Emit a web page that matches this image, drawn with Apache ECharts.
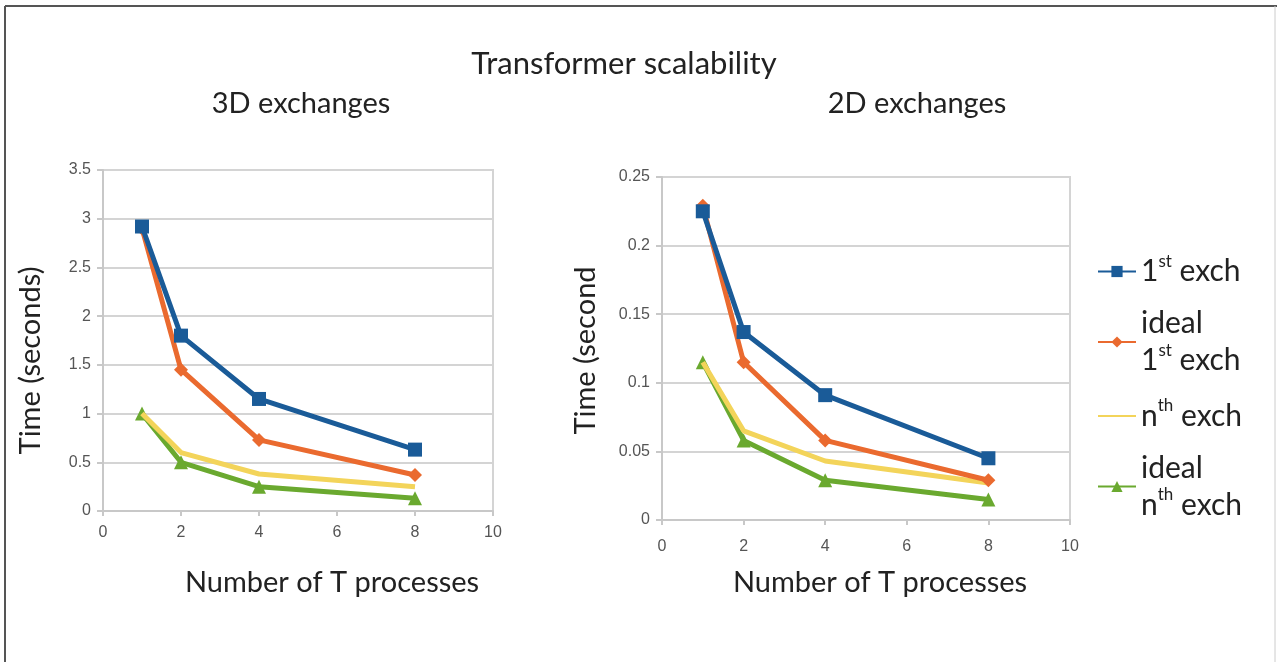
<!DOCTYPE html>
<html>
<head>
<meta charset="utf-8">
<script src="https://cdn.jsdelivr.net/npm/echarts@6/dist/echarts.min.js"></script>
<style>
html,body{margin:0;padding:0;background:#fff;}
#chart{width:1277px;height:662px;}
</style>
</head>
<body>
<div id="chart"></div>
<script>
// ---- data ----
const procs = [1, 2, 4, 8];
const seriesNames = ['1st exch', 'ideal 1st exch', 'nth exch', 'ideal nth exch'];
const first3D = [2.92, 1.80, 1.15, 0.63];
const ideal1st3D = [2.90, 1.45, 0.73, 0.37];
const nth3D = [1.00, 0.60, 0.38, 0.25];
const idealNth3D = [1.00, 0.50, 0.25, 0.13];
const first2D = [0.225, 0.137, 0.091, 0.045];
const ideal1st2D = [0.229, 0.115, 0.058, 0.029];
const nth2D = [0.115, 0.065, 0.043, 0.027];
const idealNth2D = [0.115, 0.058, 0.029, 0.015];
const xTicks = [0, 2, 4, 6, 8, 10];

const colors = ['#1a5b98', '#ea6a2f', '#f3d45a', '#6aa92f'];
const symbols = ['rect', 'diamond', 'none', 'triangle'];
const symbolSizes = [14, 14, 0, 14];

function pairs(vals) { return procs.map((p, i) => [p, vals[i]]); }

function mkSeries(idx, vals, gi) {
  return {
    name: seriesNames[idx],
    type: 'line',
    xAxisIndex: gi, yAxisIndex: gi,
    data: pairs(vals),
    symbol: symbols[idx],
    symbolSize: symbolSizes[idx],
    showSymbol: symbols[idx] !== 'none',
    lineStyle: { width: 5, color: colors[idx] },
    itemStyle: { color: colors[idx] },
    z: 10 - idx
  };
}

const FONT = 'Lato, Open Sans, sans-serif';
const tickFont = { color: '#555', fontSize: 16, fontFamily: 'Liberation Sans, Arial, sans-serif' };

function xAx(gi, gap, margin, shiftPad) {
  return {
    type: 'value', gridIndex: gi, min: 0, max: 10, interval: 2,
    axisLine: { show: true, lineStyle: { color: '#c8c8c8', width: 2 } },
    axisTick: { show: true, length: 5, lineStyle: { color: '#c8c8c8', width: 2 } },
    axisLabel: Object.assign({ margin: margin }, tickFont),
    splitLine: { show: false },
    name: 'Number of T processes', nameLocation: 'middle', nameGap: gap,
    nameTextStyle: { color: '#222', fontSize: 29, fontFamily: FONT, padding: [0, 0, 0, shiftPad] }
  };
}
function yAx(gi, max, interval, name, gap, shiftPad) {
  return {
    type: 'value', gridIndex: gi, min: 0, max: max, interval: interval,
    axisLine: { show: true, lineStyle: { color: '#c8c8c8', width: 2 } },
    axisTick: { show: true, length: 6, lineStyle: { color: '#c8c8c8', width: 2 } },
    axisLabel: Object.assign({ margin: 12 }, tickFont),
    splitLine: { show: true, lineStyle: { color: '#d4d4d4', width: 2 } },
    name: name, nameLocation: 'middle', nameGap: gap, nameRotate: 90,
    nameTextStyle: { color: '#222', fontSize: 29, fontFamily: FONT, padding: [0, shiftPad, 0, 0] }
  };
}

const legendRich = {
  n: { fontSize: 30, fontFamily: FONT, color: '#222', lineHeight: 37 },
  s: { fontSize: 17, fontFamily: FONT, color: '#222', verticalAlign: 'top', lineHeight: 37 }
};
const legendLabels = {
  '1st exch': '{n|1}{s|st}{n| exch}',
  'ideal 1st exch': '{n|ideal}\n{n|1}{s|st}{n| exch}',
  'nth exch': '{n|n}{s|th}{n| exch}',
  'ideal nth exch': '{n|ideal}\n{n|n}{s|th}{n| exch}'
};

const titleStyle = { fontSize: 29, fontWeight: 'normal', color: '#222', fontFamily: FONT };

const option = {
  backgroundColor: '#fff',
  animation: false,
  title: [
    { text: 'Transformer scalability', left: 619, top: 43, textAlign: 'center', textStyle: { fontSize: 31, fontWeight: 'normal', color: '#222', fontFamily: FONT } },
    { text: '3D exchanges', left: 296, top: 84, textAlign: 'center', textStyle: titleStyle },
    { text: '2D exchanges', left: 912, top: 84, textAlign: 'center', textStyle: titleStyle }
  ],
  legend: {
    orient: 'vertical', left: 1092, top: 248,
    itemWidth: 38, itemHeight: 14, itemGap: 22,
    data: [
      { name: '1st exch' },
      { name: 'ideal 1st exch' },
      { name: 'nth exch', itemStyle: { opacity: 0 } },
      { name: 'ideal nth exch' }
    ],
    formatter: function (name) { return legendLabels[name]; },
    textStyle: { rich: legendRich }
  },
  grid: [
    { left: 103, top: 170, width: 390, height: 341, show: true, borderColor: '#d4d4d4', borderWidth: 2 },
    { left: 662, top: 177, width: 408, height: 343, show: true, borderColor: '#d4d4d4', borderWidth: 2 }
  ],
  xAxis: [xAx(0, 57, 14, 68), xAx(1, 48, 19, 28)],
  yAxis: [
    yAx(0, 3.5, 0.5, 'Time (seconds)', 58, 40),
    yAx(1, 0.25, 0.05, 'Time (second', 62, 4)
  ],
  series: [
    mkSeries(0, first3D, 0), mkSeries(1, ideal1st3D, 0), mkSeries(2, nth3D, 0), mkSeries(3, idealNth3D, 0),
    mkSeries(0, first2D, 1), mkSeries(1, ideal1st2D, 1), mkSeries(2, nth2D, 1), mkSeries(3, idealNth2D, 1)
  ],
  graphic: [
    { type: 'line', shape: { x1: 5, y1: 6, x2: 1277, y2: 6 }, style: { stroke: '#555', lineWidth: 2 } },
    { type: 'line', shape: { x1: 5, y1: 6, x2: 5, y2: 662 }, style: { stroke: '#555', lineWidth: 2 } },
    { type: 'line', shape: { x1: 1275, y1: 6, x2: 1275, y2: 662 }, style: { stroke: '#ccc', lineWidth: 1 } }
  ]
};

const chart = echarts.init(document.getElementById('chart'), null, { renderer: 'canvas' });
chart.setOption(option);
</script>
</body>
</html>
